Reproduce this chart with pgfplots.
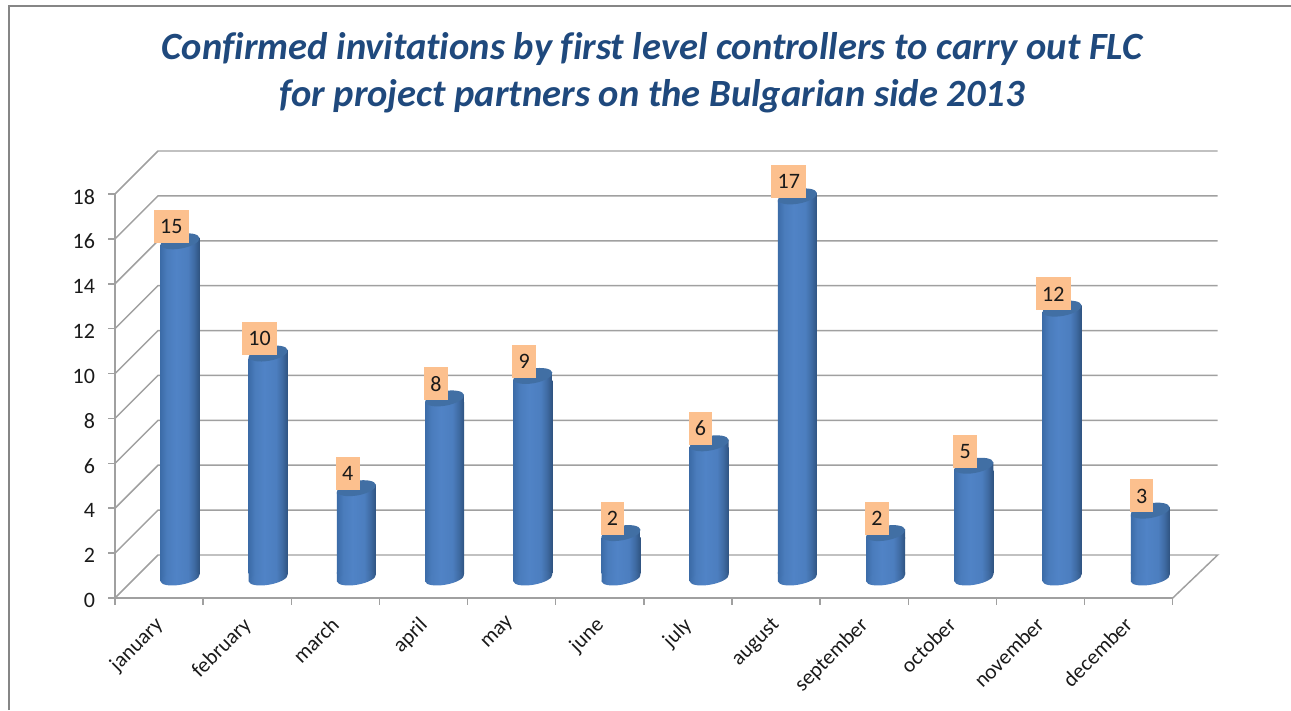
\documentclass[border=0pt]{standalone}
\usepackage{pgfplots}
\usepackage{pgfplotstable}
\usepackage{fontspec}
\setmainfont{Carlito}[Ligatures=NoCommon]
\pgfplotsset{compat=1.18}
\definecolor{titleblue}{HTML}{1F497D}
\definecolor{wall}{HTML}{A0A0A0}
\definecolor{framegray}{HTML}{868686}
\definecolor{labelbox}{HTML}{FCC08E}
\definecolor{captop}{HTML}{416FA4}
\definecolor{txt}{HTML}{1A1A1A}
\definecolor{cylA}{HTML}{3C6CA8}
\definecolor{cylB}{HTML}{4A7CBC}
\definecolor{cylC}{HTML}{5083C6}
\definecolor{cylD}{HTML}{4C7EBF}
\definecolor{cylF}{HTML}{3F6BA3}
\definecolor{cylE}{HTML}{2F5380}
\pgfdeclarehorizontalshading{cyl}{100bp}{
  color(0bp)=(cylA);
  color(25bp)=(cylA);
  color(33bp)=(cylB);
  color(45bp)=(cylC);
  color(60bp)=(cylD);
  color(68bp)=(cylF);
  color(75bp)=(cylE);
  color(100bp)=(cylE)}
\pgfdeclareplotmark{cyltop}{%
  \pgfpathmoveto{\pgfqpoint{-14.625pt}{-2.6pt}}%
  \pgfpathlineto{\pgfqpoint{14.625pt}{2.6pt}}%
  \pgfpathlineto{\pgfqpoint{14.625pt}{-4.5pt}}%
  \pgfpathlineto{\pgfqpoint{-14.625pt}{-4.5pt}}%
  \pgfpathclose
  \pgfshadepath{cyl}{0}\pgfusepath{discard}%
  \pgfpathellipse{\pgfpointorigin}{\pgfqpoint{14.6pt}{2.6pt}}{\pgfqpoint{-0.9pt}{5.4pt}}%
  \pgfsetfillcolor{captop}\pgfusepath{fill}}
\pgfdeclareplotmark{cylbottom}{%
  \pgfpathmoveto{\pgfqpoint{-14.625pt}{-2.6pt}}%
  \pgfpathlineto{\pgfqpoint{14.625pt}{2.6pt}}%
  \pgfpathlineto{\pgfqpoint{14.625pt}{4.5pt}}%
  \pgfpathlineto{\pgfqpoint{-14.625pt}{4.5pt}}%
  \pgfpathclose
  \pgfshadepath{cyl}{0}\pgfusepath{discard}%
  \pgfpathellipse{\pgfpointorigin}{\pgfqpoint{14.6pt}{2.6pt}}{\pgfqpoint{-0.9pt}{5.0pt}}%
  \pgfshadepath{cyl}{0}\pgfusepath{discard}}
\pgfplotstableread{
x v
0 15
1 10
2 4
3 8
4 9
5 2
6 6
7 17
8 2
9 5
10 12
11 3
}\invitations
\begin{document}
\begin{tikzpicture}
\path[use as bounding box] (0,0) rectangle (968.25pt,532.5pt);
\draw[framegray,line width=1.5pt] (6.75pt,0) -- (6.75pt,528pt) -- (968.25pt,528pt);
\node[font=\fontsize{28.9pt}{35.25pt}\selectfont\bfseries\itshape,text=titleblue,align=center,anchor=center] at (489pt,478.25pt)
  {Confirmed invitations by first level controllers to carry out FLC\\for project partners on the Bulgarian side 2013};
% walls and axes
\begin{axis}[
  at={(86.25pt,84pt)},anchor=south west,
  scale only axis,width=793.3pt,height=303pt,
  xmin=0,xmax=12,ymin=0,ymax=18,clip=false,
  axis x line*=bottom,axis y line*=left,
  axis line style={wall,line width=1.1pt,-},
  xtick={0,1,...,12},xticklabels={},
  ytick={0,2,...,18},
  tick align=outside,
  major tick length=5pt,
  tick style={wall,line width=1.1pt},
  every tick label/.append style={font=\fontsize{16.5pt}{18pt}\selectfont,text=txt},
  y tick label style={xshift=-6.5pt,yshift=-2pt},
  /pgf/number format/assume math mode=true,
  extra x ticks={0.5,1.5,2.5,3.5,4.5,5.5,6.5,7.5,8.5,9.5,10.5,11.5},
  extra x tick labels={january,february,march,april,may,june,july,august,september,october,november,december},
  extra x tick style={major tick length=0pt,
    tick label style={xshift=-4.2pt,yshift=-8.8pt,rotate=45,anchor=north east,inner sep=3pt,font=\fontsize{16pt}{18pt}\selectfont,text=txt}},
  unbounded coords=jump,
]
\addplot[wall,line width=1.1pt,mark=none] coordinates {
 (12,0)(12.51,1.916)(0.488,1.916)(0,0) (nan,nan)
 (0,2)(0.488,3.916)(12.51,3.916) (nan,nan)
 (0,4)(0.488,5.916)(12.51,5.916) (nan,nan)
 (0,6)(0.488,7.916)(12.51,7.916) (nan,nan)
 (0,8)(0.488,9.916)(12.51,9.916) (nan,nan)
 (0,10)(0.488,11.916)(12.51,11.916) (nan,nan)
 (0,12)(0.488,13.916)(12.51,13.916) (nan,nan)
 (0,14)(0.488,15.916)(12.51,15.916) (nan,nan)
 (0,16)(0.488,17.916)(12.51,17.916) (nan,nan)
 (0,18)(0.488,19.916)(12.51,19.916)
};
\end{axis}
% cylinders
\begin{axis}[
  at={(86.25pt,84pt)},anchor=south west,
  scale only axis,width=793.3pt,height=303pt,
  xmin=-0.737,xmax=11.255,ymin=-1.092,ymax=16.908,clip=false,
  hide axis,
]
\pgfplotsinvokeforeach{0,...,11}{
  \addplot[ybar,bar width=29.25pt,draw=none,shade,shading=cyl,shading angle=0,
    x filter/.expression={x==#1 ? x : nan}]
    table[x=x,y expr=\thisrow{v}-0.4] {\invitations};
}
\addplot[only marks,mark=cylbottom] table[x=x,y expr=-0.2] {\invitations};
\addplot[only marks,mark=cyltop] table[x=x,y expr=\thisrow{v}-0.2] {\invitations};
\addplot[only marks,mark=none,point meta=\thisrow{v},
  nodes near coords,
  every node near coord/.style={anchor=center,xshift=-6.5pt,yshift=11pt,fill=labelbox,text=txt,
    font=\fontsize{16.5pt}{18pt}\selectfont,inner xsep=4.7pt,inner ysep=0pt,minimum height=24.75pt},
  nodes near coords={\pgfmathprintnumber[assume math mode=true]{\pgfplotspointmeta}},
] table[x=x,y expr=\thisrow{v}-0.2] {\invitations};
\end{axis}
\end{tikzpicture}
\end{document}
